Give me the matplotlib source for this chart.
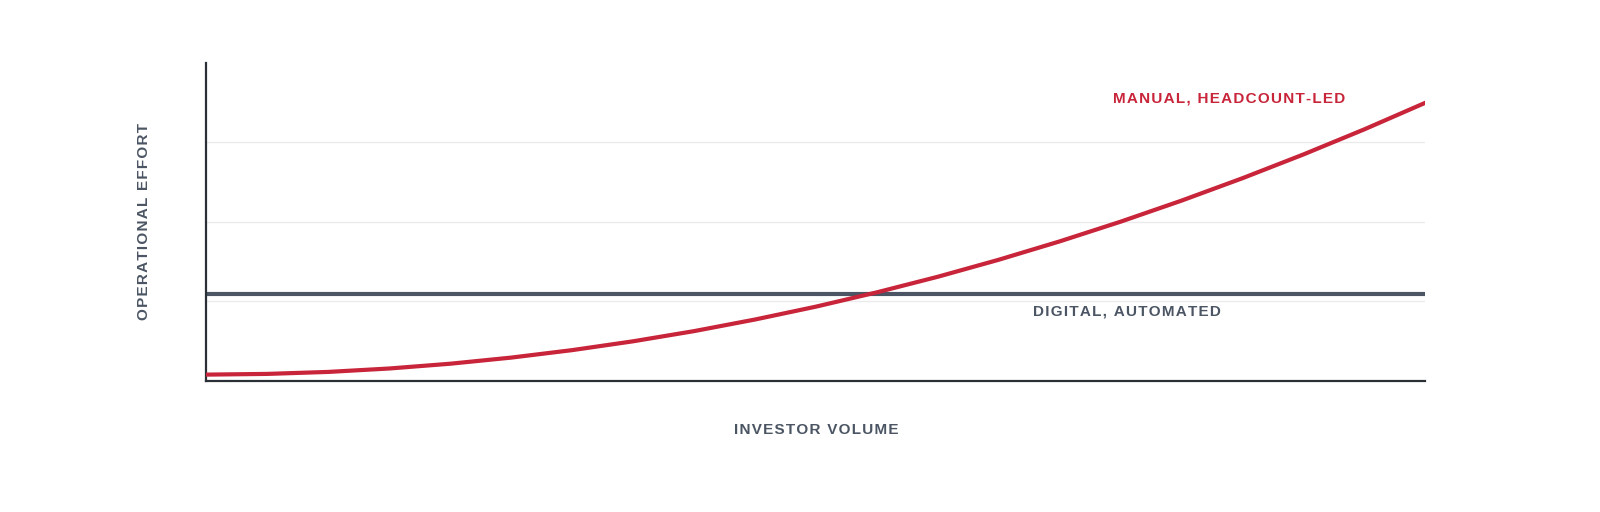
import matplotlib
matplotlib.use("Agg")
import matplotlib.pyplot as plt

volume = [0, 0.5, 1, 1.5, 2, 2.5, 3, 3.5, 4, 4.5, 5, 5.5, 6, 6.5, 7, 7.5, 8, 8.5, 9, 9.5, 10]
manual_effort = [0.08, 0.089, 0.114, 0.157, 0.217, 0.294, 0.388, 0.499, 0.627, 0.773,
                 0.935, 1.115, 1.311, 1.525, 1.756, 2.004, 2.269, 2.551, 2.85, 3.166, 3.5]
digital_effort = 1.1
grid_levels = [1, 2, 3]

RED = "#c8243a"
SLATE = "#4b5563"
FAM = ["Liberation Sans", "DejaVu Sans"]

def spaced(s):
    return "\u200a".join(s)

fig = plt.figure(figsize=(16, 5.12), dpi=100)
ax = fig.add_axes([0.129, 0.2559, 0.7619, 0.6211])
for g in grid_levels:
    ax.axhline(g, color="#ebebeb", lw=1, zorder=0)
ax.axhline(digital_effort, color=SLATE, lw=3, zorder=2)
ax.plot(volume, manual_effort, color=RED, lw=3, zorder=3, solid_capstyle="round")
ax.set_xlim(0, 10)
ax.set_ylim(0, 4)
ax.set_xticks([]); ax.set_yticks([])
for s in ["top", "right"]:
    ax.spines[s].set_visible(False)
for s in ["left", "bottom"]:
    ax.spines[s].set_color("#2b2f36"); ax.spines[s].set_linewidth(1.6)

kw = dict(fontsize=11, fontweight="bold", family=FAM)
ax.text(9.34, 3.55, spaced("MANUAL, HEADCOUNT-LED"), color=RED, ha="right", va="center", **kw)
ax.text(8.32, 0.87, spaced("DIGITAL, AUTOMATED"), color=SLATE, ha="right", va="center", **kw)
ax.set_xlabel(spaced("INVESTOR VOLUME"), color=SLATE, labelpad=30, **kw)
ax.set_ylabel(spaced("OPERATIONAL EFFORT"), color=SLATE, labelpad=40, **kw)
fig.savefig("out.png", dpi=100, facecolor="white")
